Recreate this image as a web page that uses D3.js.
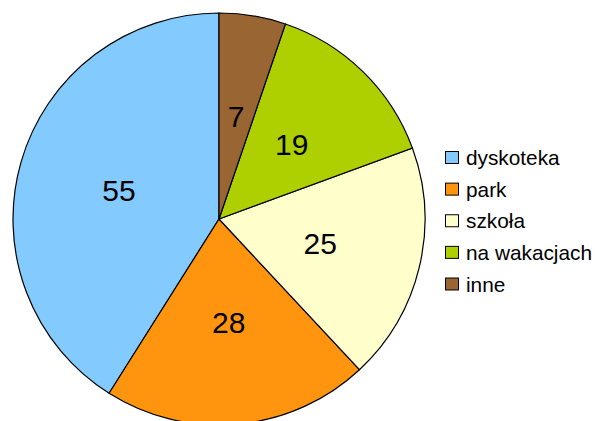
<!DOCTYPE html>
<html>
<head>
<meta charset="utf-8">
<script src="https://cdn.jsdelivr.net/npm/d3@7"></script>
<style>
  body { margin: 0; background: #fff; }
  svg { display: block; font-family: "Liberation Sans", Arial, sans-serif; }
</style>
</head>
<body>
<div id="wrapper"></div>
<script>
const categories = ["dyskoteka", "park", "szkoła", "na wakacjach", "inne"];
const values = [55, 28, 25, 19, 7];
const colors = ["#83caff", "#ff950e", "#ffffcc", "#aecf00", "#996633"];

const data = categories.map((c, i) => ({ name: c, value: values[i], color: colors[i] }));

const dimension = { width: 596, height: 421 };
const cx = 219, cy = 219, radius = 206;

const svg = d3.select("#wrapper").append("svg")
    .attr("width", dimension.width)
    .attr("height", dimension.height);

// slices go counterclockwise from 12 o'clock
const pie = d3.pie()
    .sort(null)
    .value(d => d.value)
    .startAngle(0)
    .endAngle(-2 * Math.PI);

const arc = d3.arc().innerRadius(0).outerRadius(radius);
const labelArc = d3.arc().innerRadius(radius * 0.505).outerRadius(radius * 0.505);

const chart = svg.append("g").attr("transform", `translate(${cx}, ${cy})`);
const arcs = pie(data);

chart.selectAll("path")
    .data(arcs)
    .join("path")
    .attr("d", arc)
    .attr("fill", d => d.data.color)
    .attr("stroke", "#000")
    .attr("stroke-width", 1.2);

chart.selectAll("text")
    .data(arcs)
    .join("text")
    .attr("transform", d => `translate(${labelArc.centroid(d)})`)
    .attr("text-anchor", "middle")
    .attr("dominant-baseline", "central")
    .attr("font-size", 30)
    .attr("fill", "#000")
    .text(d => d.data.value);

// legend
const legend = svg.append("g").attr("transform", "translate(445, 157.5)");
const yLeg = d3.scalePoint().domain(categories).range([0, 126.5]);

const rows = legend.selectAll("g")
    .data(data)
    .join("g")
    .attr("transform", d => `translate(0, ${yLeg(d.name)})`);

rows.append("rect")
    .attr("x", 0.5)
    .attr("y", -6)
    .attr("width", 13)
    .attr("height", 12)
    .attr("fill", d => d.color)
    .attr("stroke", "#000")
    .attr("stroke-width", 1);

rows.append("text")
    .attr("x", 21)
    .attr("y", 0)
    .attr("dominant-baseline", "central")
    .attr("font-size", 20.8)
    .attr("fill", "#000")
    .text(d => d.name);
</script>
</body>
</html>
